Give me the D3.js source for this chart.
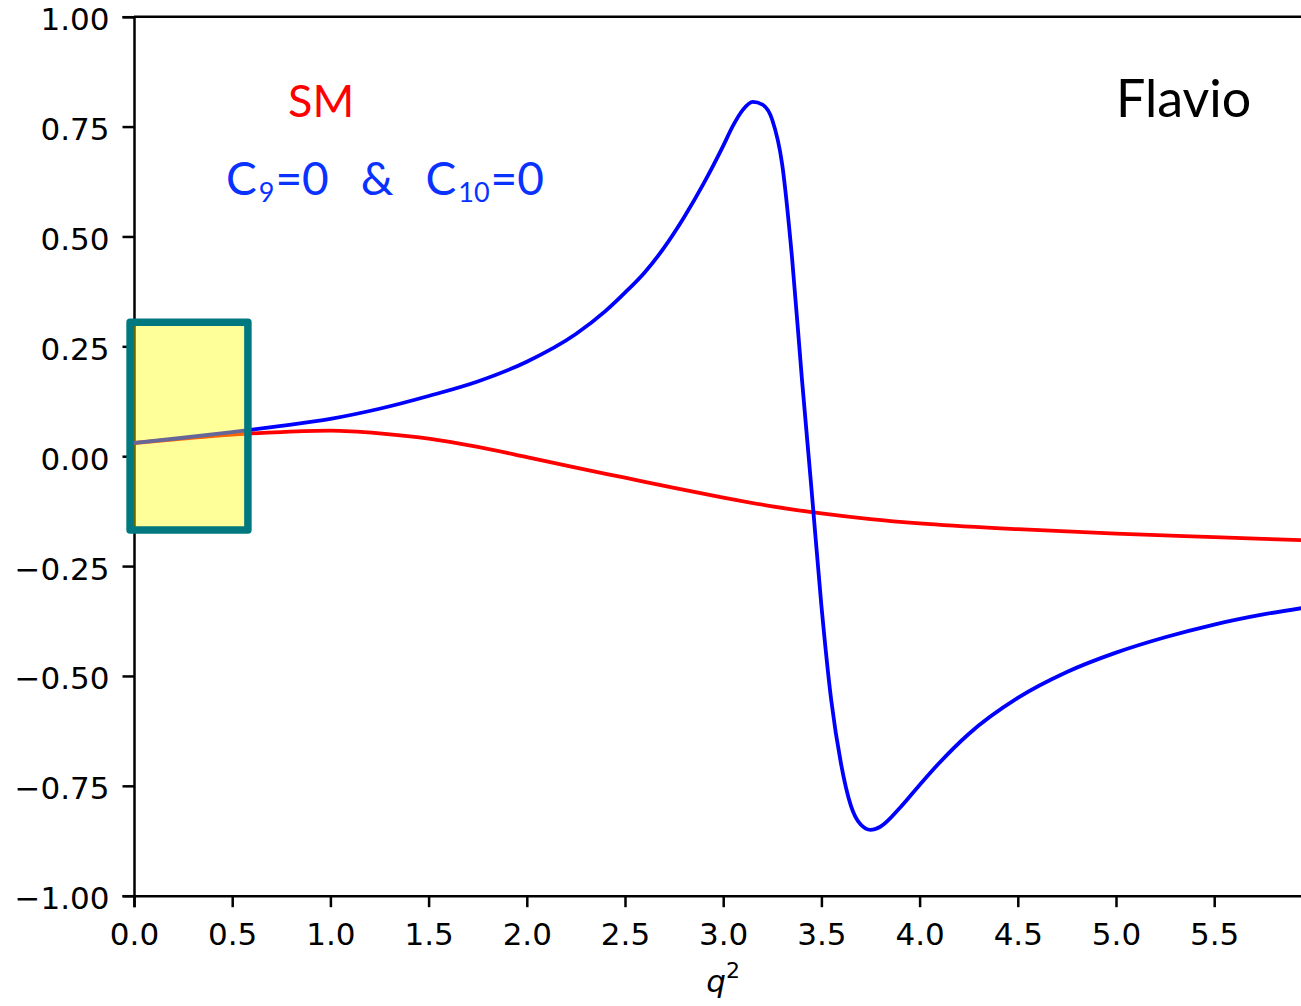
<!DOCTYPE html>
<html>
<head>
<meta charset="utf-8">
<script src="https://cdn.jsdelivr.net/npm/d3@7"></script>
<style>
	body { margin: 0; background: #fff; }
	svg { display: block; }
</style>
</head>
<body>
<div id="chart"></div>
<script>
// data
var smQ = [0, 0.25, 0.5, 0.75, 1.0, 1.25, 1.5, 1.75, 2.0, 2.25, 2.5, 2.75, 3.0, 3.25, 3.5, 3.75, 4.0, 4.5, 5.0, 5.5, 6.0]
var smV = [0.030, 0.040, 0.049, 0.055, 0.058, 0.052, 0.040, 0.021, -0.002, -0.026, -0.049, -0.072, -0.094, -0.114, -0.130, -0.143, -0.153, -0.166, -0.176, -0.184, -0.192]

var npQ = [0, 0.25, 0.5, 0.75, 1.0, 1.25, 1.5, 1.75, 2.0, 2.25, 2.4, 2.5, 2.6, 2.7, 2.8, 2.9, 3.0, 3.05, 3.1, 3.15, 3.2, 3.25, 3.3, 3.35, 3.4, 3.45, 3.5, 3.55, 3.6, 3.65, 3.7, 3.75, 3.8, 3.9, 4.0, 4.1, 4.25, 4.5, 4.75, 5.0, 5.25, 5.5, 5.75, 6.0]
var npV = [0.030, 0.042, 0.055, 0.069, 0.085, 0.108, 0.137, 0.170, 0.215, 0.278, 0.330, 0.372, 0.418, 0.475, 0.543, 0.620, 0.706, 0.752, 0.788, 0.806, 0.800, 0.765, 0.665, 0.454, 0.180, -0.077, -0.340, -0.555, -0.700, -0.795, -0.838, -0.850, -0.843, -0.800, -0.748, -0.698, -0.632, -0.550, -0.491, -0.447, -0.412, -0.383, -0.360, -0.342]

var yTicks = [-1, -0.75, -0.5, -0.25, 0, 0.25, 0.5, 0.75, 1]
var xTicks = [0, 0.5, 1, 1.5, 2, 2.5, 3, 3.5, 4, 4.5, 5, 5.5]

// highlighted bin: q2 range and value range
var binQ = [-0.02, 0.58]
var binV = [-0.168, 0.305]

// svg
var visWidth = 1301,
		visHeight = 1006

var vis = d3.select('#chart')
	.append('svg')
		.attr('width', visWidth)
		.attr('height', visHeight)

var plotLeft = 134,
		plotTop = 16.7,
		plotBottom = 895.7,
		plotRight = 1312.4

var x = d3.scaleLinear()
	.domain([0, 6])
	.range([plotLeft, plotRight])

var y = d3.scaleLinear()
	.domain([-1, 1])
	.range([plotBottom, plotTop])

var axisFont = 'DejaVu Sans, sans-serif',
		labelFont = 'Lato, "Noto Sans", sans-serif'

// axes
var yAxis = vis.append('g')
	.attr('transform', 'translate(' + plotLeft + ',0)')
	.call(d3.axisLeft(y).tickValues(yTicks).tickFormat(d3.format('.2f')).tickSize(11.5).tickPadding(13))

var xAxis = vis.append('g')
	.attr('transform', 'translate(0,' + plotBottom + ')')
	.call(d3.axisBottom(x).tickValues(xTicks).tickFormat(d3.format('.1f')).tickSize(11.5).tickPadding(15.5))

vis.selectAll('.domain')
	.attr('stroke', '#000')
	.attr('stroke-width', 2.5)

vis.selectAll('.tick line')
	.attr('stroke', '#000')
	.attr('stroke-width', 2.5)

vis.selectAll('.tick text')
	.attr('fill', '#000')
	.style('font-family', axisFont)
	.style('font-size', '31px')

yAxis.selectAll('.tick text')
	.attr('dy', '0.42em')

// top spine
vis.append('line')
	.attr('x1', plotLeft)
	.attr('x2', plotRight)
	.attr('y1', plotTop)
	.attr('y2', plotTop)
	.attr('stroke', '#000')
	.attr('stroke-width', 2.5)

// x label
var xLabel = vis.append('text')
	.attr('x', (plotLeft + plotRight) / 2)
	.attr('y', 992)
	.attr('text-anchor', 'middle')
	.style('font-family', axisFont)
	.style('font-size', '31px')

xLabel.append('tspan')
	.style('font-style', 'italic')
	.text('q')

xLabel.append('tspan')
	.attr('dy', -14)
	.style('font-size', '22px')
	.text('2')

// curves
var line = d3.line()
	.x(function(d){ return x(d[0]) })
	.y(function(d){ return y(d[1]) })
	.curve(d3.curveMonotoneX)

var clip = vis.append('defs')
	.append('clipPath')
		.attr('id', 'plot_clip')
	.append('rect')
		.attr('x', plotLeft)
		.attr('y', plotTop)
		.attr('width', plotRight - plotLeft)
		.attr('height', plotBottom - plotTop)

// SM first, the C9=C10=0 curve sits on top of it
vis.append('path')
	.datum(d3.zip(smQ, smV))
	.attr('d', line)
	.attr('fill', 'none')
	.attr('stroke', '#ff0000')
	.attr('stroke-width', 3.8)
	.attr('clip-path', 'url(#plot_clip)')

vis.append('path')
	.datum(d3.zip(npQ, npV))
	.attr('d', line)
	.attr('fill', 'none')
	.attr('stroke', '#0000ff')
	.attr('stroke-width', 3.8)
	.attr('clip-path', 'url(#plot_clip)')

// bin box
vis.append('rect')
	.attr('x', x(binQ[0]))
	.attr('y', y(binV[1]))
	.attr('width', x(binQ[1]) - x(binQ[0]))
	.attr('height', y(binV[0]) - y(binV[1]))
	.attr('fill', '#ffff00')
	.attr('fill-opacity', 0.4)
	.attr('stroke', '#00787f')
	.attr('stroke-width', 7.5)
	.attr('stroke-linejoin', 'round')

// labels
vis.append('text')
	.attr('x', 288)
	.attr('y', 117)
	.attr('fill', '#ff0000')
	.style('font-family', labelFont)
	.style('font-size', '45px')
	.text('SM')

vis.append('text')
	.attr('x', 1116)
	.attr('y', 117)
	.attr('fill', '#000')
	.style('font-family', labelFont)
	.style('font-size', '52px')
	.text('Flavio')

var npPieces = [
	{ 't': 'C', 'sub': false, 'dx': 0 },
	{ 't': '9', 'sub': true, 'dx': 2 },
	{ 't': '=0', 'sub': false, 'dx': 1 },
	{ 't': '&', 'sub': false, 'dx': 32 },
	{ 't': 'C', 'sub': false, 'dx': 32 },
	{ 't': '10', 'sub': true, 'dx': 2 },
	{ 't': '=0', 'sub': false, 'dx': 1 }
]

var npLabel = vis.append('text')
	.attr('x', 226)
	.attr('y', 195)
	.attr('fill', '#0a32ff')
	.style('font-family', labelFont)
	.style('font-size', '46px')

npLabel.selectAll('tspan')
		.data(npPieces).enter()
	.append('tspan')
		.attr('dy', function(d, i){
			if (d.sub) return 7
			return (i > 0 && npPieces[i - 1].sub) ? -7 : 0
		})
		.attr('dx', function(d){ return d.dx })
		.style('font-size', function(d){ return d.sub ? '27px' : '46px' })
		.text(function(d){ return d.t })
</script>
</body>
</html>
